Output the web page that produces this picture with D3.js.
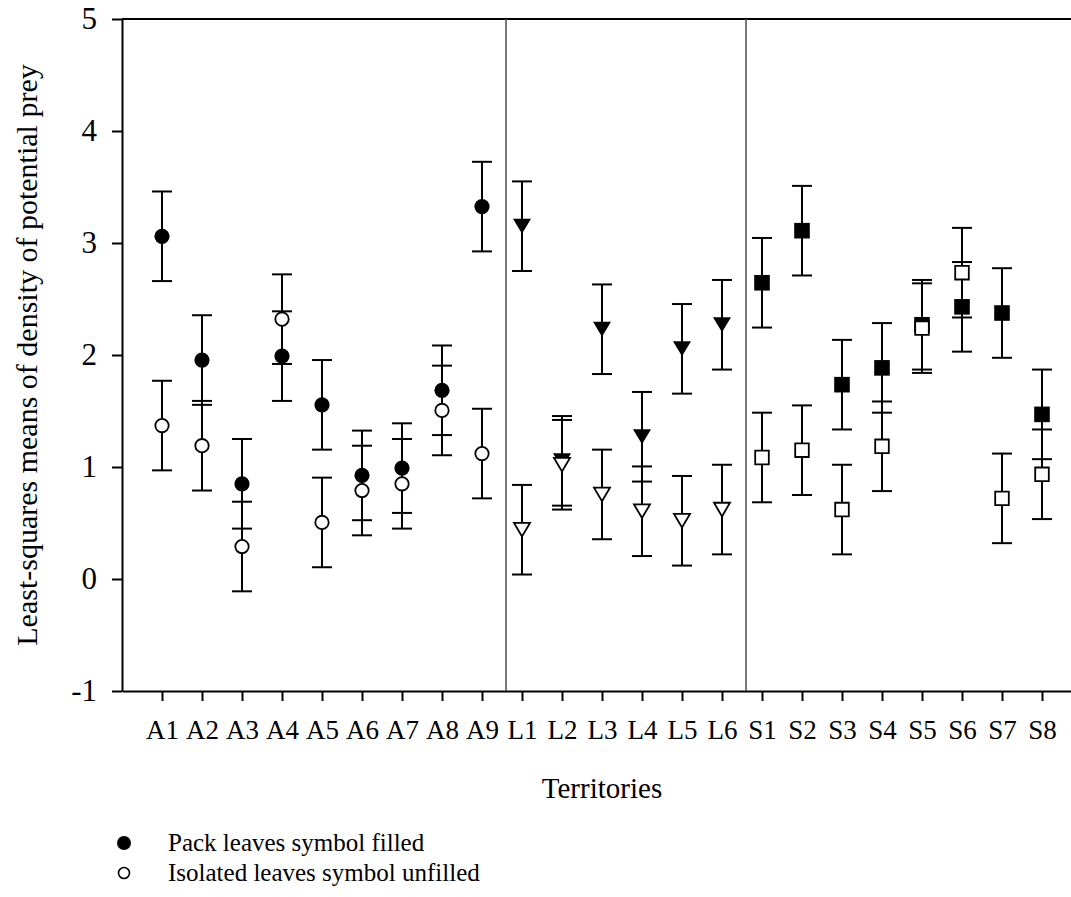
<!DOCTYPE html>
<html>
<head>
<meta charset="utf-8">
<script src="https://cdn.jsdelivr.net/npm/d3@7"></script>
<style>
  body { margin: 0; background: #fff; }
  svg text { font-family: "Liberation Serif", "Times New Roman", serif; fill: #000; }
  .axis path, .axis line { stroke: #000; stroke-width: 2; }
  .err { stroke: #000; stroke-width: 2; fill: none; }
</style>
</head>
<body>
<div id="chart"></div>
<script>
var territories = ["A1", "A2", "A3", "A4", "A5", "A6", "A7", "A8", "A9",
    "L1", "L2", "L3", "L4", "L5", "L6",
    "S1", "S2", "S3", "S4", "S5", "S6", "S7", "S8"];

// pack leaves (filled symbols)
var packMeans = [3.06, 1.955, 0.85, 1.99, 1.555, 0.925, 0.99, 1.685, 3.325,
    3.15, 1.055, 2.23, 1.27, 2.055, 2.27,
    2.645, 3.11, 1.735, 1.885, 2.27, 2.43, 2.375, 1.47];
var packSE = [0.40, 0.40, 0.40, 0.40, 0.40, 0.40, 0.40, 0.40, 0.40,
    0.40, 0.40, 0.40, 0.40, 0.40, 0.40,
    0.40, 0.40, 0.40, 0.40, 0.40, 0.40, 0.40, 0.40];

// isolated leaves (unfilled symbols)
var isolatedMeans = [1.37, 1.19, 0.29, 2.32, 0.505, 0.79, 0.85, 1.505, 1.12,
    0.44, 1.02, 0.755, 0.605, 0.52, 0.62,
    1.085, 1.15, 0.62, 1.185, 2.24, 2.735, 0.72, 0.935];
var isolatedSE = [0.40, 0.40, 0.40, 0.40, 0.40, 0.40, 0.40, 0.40, 0.40,
    0.40, 0.40, 0.40, 0.40, 0.40, 0.40,
    0.40, 0.40, 0.40, 0.40, 0.40, 0.40, 0.40, 0.40];

var yTicks = [-1, 0, 1, 2, 3, 4, 5];
var groupEnds = ["A9", "L6"];
var legendLabels = ["Pack leaves symbol filled", "Isolated leaves symbol unfilled"];

var ErrorChart = function() {};

ErrorChart.prototype.create = function(el, options) {
    this.options = options;

    this.svg = d3.select(el).append("svg")
        .attr("width", options.width)
        .attr("height", options.height);

    this._scales();
    this._axes();
    this._draw();
    this._legend();
    return this;
};

ErrorChart.prototype._scales = function() {
    var m = this.options.margin;
    this.x = d3.scalePoint()
        .domain(territories)
        .range([m.left, m.left + 960])
        .padding(1);
    this.y = d3.scaleLinear()
        .domain([-1, 5])
        .range([m.top + 672, m.top]);
};

ErrorChart.prototype._axes = function() {
    var x = this.x, y = this.y, m = this.options.margin;

    this.svg.append("g")
        .attr("class", "axis")
        .attr("transform", "translate(" + m.left + ",0)")
        .call(d3.axisLeft(y).tickValues(yTicks).tickSize(10).tickSizeOuter(0).tickPadding(15)
            .tickFormat(String))
        .selectAll("text").style("font-size", "31px");

    this.svg.append("g")
        .attr("class", "axis")
        .attr("transform", "translate(0," + y(-1) + ")")
        .call(d3.axisBottom(x).tickSize(10).tickSizeOuter(0).tickPadding(19))
        .selectAll("text").style("font-size", "27px");

    // top border
    this.svg.append("line")
        .attr("x1", m.left).attr("x2", m.left + 960)
        .attr("y1", y(5)).attr("y2", y(5))
        .attr("stroke", "#000").attr("stroke-width", 2);

    // group separators
    var step = x.step();
    this.svg.selectAll(".sep")
        .data(groupEnds)
        .enter().append("line")
        .attr("class", "sep")
        .attr("x1", function(d) { return x(d) + step * 0.6; })
        .attr("x2", function(d) { return x(d) + step * 0.6; })
        .attr("y1", y(5)).attr("y2", y(-1))
        .attr("stroke", "#555").attr("stroke-width", 1.6);

    this.svg.append("text")
        .attr("transform", "translate(37," + ((y(5) + y(-1)) / 2) + ") rotate(-90)")
        .attr("text-anchor", "middle")
        .style("font-size", "30px")
        .text("Least-squares means of density of potential prey");

    this.svg.append("text")
        .attr("x", (x("A1") + x("S8")) / 2)
        .attr("y", 798)
        .attr("text-anchor", "middle")
        .style("font-size", "29px")
        .text("Territories");
};

ErrorChart.prototype._shape = function(name, filled) {
    var g = name.charAt(0);
    if (g == "A") {
        return filled ? "M-7.6,0a7.6,7.6 0 1,0 15.2,0a7.6,7.6 0 1,0 -15.2,0Z"
                      : "M-6.7,0a6.7,6.7 0 1,0 13.4,0a6.7,6.7 0 1,0 -13.4,0Z";
    } else if (g == "L") {
        return filled ? "M-9,-7.5L9,-7.5L0,7.5Z" : "M-8,-6.8L8,-6.8L0,6.8Z";
    }
    return filled ? "M-7.8,-7.8H7.8V7.8H-7.8Z" : "M-6.8,-6.8H6.8V6.8H-6.8Z";
};

ErrorChart.prototype._series = function(means, se, filled) {
    var x = this.x, y = this.y, self = this;
    var data = territories.map(function(t, i) {
        return { name: t, mean: means[i], se: se[i] };
    });

    var bars = this.svg.append("g").selectAll("g")
        .data(data)
        .enter().append("g")
        .attr("class", "err");
    bars.append("line")
        .attr("x1", function(d) { return x(d.name); })
        .attr("x2", function(d) { return x(d.name); })
        .attr("y1", function(d) { return y(d.mean + d.se); })
        .attr("y2", function(d) { return y(d.mean - d.se); });
    bars.append("line")
        .attr("x1", function(d) { return x(d.name) - 10; })
        .attr("x2", function(d) { return x(d.name) + 10; })
        .attr("y1", function(d) { return y(d.mean + d.se); })
        .attr("y2", function(d) { return y(d.mean + d.se); });
    bars.append("line")
        .attr("x1", function(d) { return x(d.name) - 10; })
        .attr("x2", function(d) { return x(d.name) + 10; })
        .attr("y1", function(d) { return y(d.mean - d.se); })
        .attr("y2", function(d) { return y(d.mean - d.se); });

    this.svg.append("g").selectAll("path")
        .data(data)
        .enter().append("path")
        .attr("transform", function(d) {
            return "translate(" + x(d.name) + "," + y(d.mean) + ")"; })
        .attr("d", function(d) { return self._shape(d.name, filled); })
        .attr("fill", filled ? "#000" : "#fff")
        .attr("stroke", filled ? "none" : "#000")
        .attr("stroke-width", 1.8);
};

ErrorChart.prototype._draw = function() {
    this._series(packMeans, packSE, true);
    this._series(isolatedMeans, isolatedSE, false);
};

ErrorChart.prototype._legend = function() {
    var lg = this.svg.append("g").selectAll("g")
        .data(legendLabels)
        .enter().append("g")
        .attr("transform", function(d, i) { return "translate(0," + (i * 30) + ")"; });

    lg.append("circle")
        .attr("cx", 124).attr("cy", 843)
        .attr("r", function(d, i) { return i == 0 ? 7 : 5.5; })
        .attr("fill", function(d, i) { return i == 0 ? "#000" : "#fff"; })
        .attr("stroke", "#000")
        .attr("stroke-width", function(d, i) { return i == 0 ? 0 : 1.6; });

    lg.append("text")
        .attr("x", 168).attr("y", 851)
        .style("font-size", "25px")
        .text(function(d) { return d; });
};

new ErrorChart().create("#chart", {
    width: 1071,
    height: 897,
    margin: { top: 19, left: 122 }
});
</script>
</body>
</html>
